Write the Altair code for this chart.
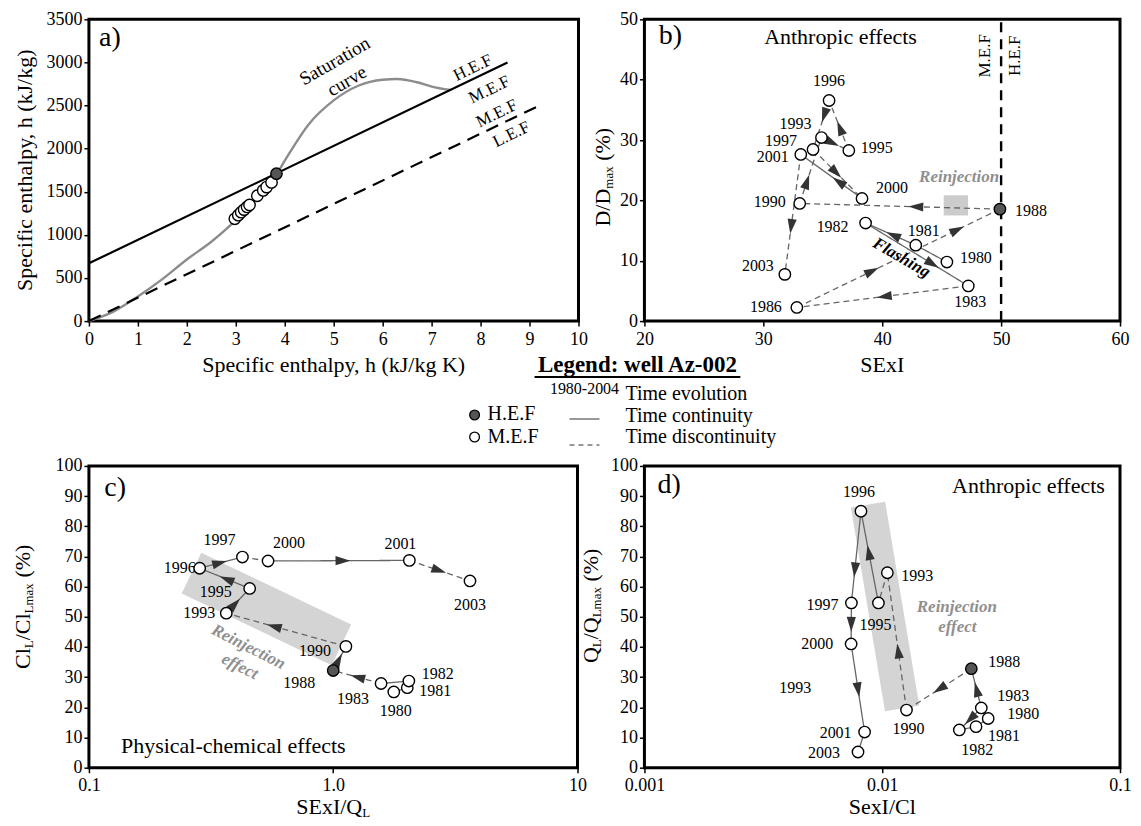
import math
import altair as alt
import pandas as pd

FONT = "Liberation Serif"

# ---------------- data: panel a ----------------
sat_h = [0, 0.5, 1.0, 1.5, 2.0, 2.5, 3.0, 3.5, 3.85, 4.0, 4.5, 5.0, 5.5, 6.0, 6.3, 6.7, 7.0, 7.38]
sat_e = [0, 110, 285, 487, 715, 920, 1170, 1480, 1720, 1860, 2290, 2560, 2730, 2800, 2808, 2770, 2720, 2680]
hef_h = [0.0, 8.55]
hef_e = [670, 3000]
lef_h = [0.0, 9.2]
lef_e = [0, 2500]
a_mef_h = [2.98, 3.05, 3.11, 3.17, 3.23, 3.28, 3.44, 3.56, 3.63, 3.73]
a_mef_e = [1186, 1228, 1263, 1293, 1324, 1347, 1454, 1516, 1554, 1608]
a_hef_h = [3.83]
a_hef_e = [1710]

# ---------------- data: panel b ----------------
b_years = [1980, 1981, 1982, 1983, 1986, 1988, 1990, 1993, 1995, 1996, 1997, 2000, 2001, 2003]
b_sexi = [45.44, 42.82, 38.60, 47.24, 32.82, 49.9, 33.06, 34.89, 37.19, 35.53, 34.18, 38.30, 33.15, 31.81]
b_ddmax = [9.78, 12.58, 16.25, 5.83, 2.26, 18.55, 19.49, 30.41, 28.27, 36.55, 28.43, 20.32, 27.61, 7.74]

# ---------------- data: panels c, d ----------------
cd_years = [1980, 1981, 1982, 1983, 1988, 1990, 1993, 1995, 1996, 1997, 2000, 2001, 2003]
c_sexi_ql = [1.77, 2.01, 2.04, 1.57, 1.00, 1.127, 0.365, 0.455, 0.284, 0.425, 0.541, 2.05, 3.63]
c_cl = [25.1, 26.5, 28.7, 27.9, 32.2, 40.2, 51.2, 59.4, 66.1, 69.8, 68.5, 68.7, 61.9]
d_sexi_cl = [0.0279, 0.0248, 0.0211, 0.0261, 0.0237, 0.01265, 0.01051, 0.00964, 0.00814, 0.00742, 0.00740, 0.00843, 0.00791]
d_ql = [16.3, 13.6, 12.5, 19.8, 32.8, 19.1, 64.6, 54.6, 85.0, 54.6, 41.0, 11.8, 5.2]
HEF_YEAR = 1988

# ---------------- time-evolution segments: (from, to, style, arrow fractions) ----------------
b_segs = [(1980, 1981, "solid", []), (1981, 1982, "solid", [0.45]), (1982, 1983, "solid", [0.65]),
          (1983, 1986, "dashed", [0.49]), (1986, 1988, "dashed", [0.37, 0.79]), (1988, 1990, "dashed", [0.42]),
          (1990, 1993, "dashed", [0.33]), (1993, 1995, "dashed", [0.4]), (1995, 1996, "dashed", [0.45]),
          (1996, 1997, "dashed", [0.3]), (1997, 2000, "dashed", [0.47]), (2000, 2001, "solid", [0.38]),
          (2001, 2003, "dashed", [0.6])]
c_segs = [(1980, 1981, "solid", []), (1981, 1982, "solid", []), (1982, 1983, "solid", []),
          (1983, 1988, "dashed", [0.49]), (1988, 1990, "solid", [0.42]), (1990, 1993, "dashed", [0.6]),
          (1993, 1995, "solid", [0.37]), (1995, 1996, "solid", [0.46]), (1996, 1997, "solid", [0.47]),
          (1997, 2000, "dashed", []), (2000, 2001, "solid", [0.53]), (2001, 2003, "dashed", [0.49])]
d_segs = [(1980, 1981, "solid", []), (1981, 1982, "solid", []), (1983, 1982, "solid", [0.5]),
          (1983, 1988, "solid", [0.47]), (1988, 1990, "dashed", [0.49]), (1990, 1993, "dashed", [0.43]),
          (1993, 1995, "dashed", []), (1995, 1996, "solid", [0.55]), (1996, 1997, "solid", [0.64]),
          (1997, 2000, "solid", [0.52]), (2000, 2001, "solid", [0.52]), (2001, 2003, "solid", [])]

# year-label offsets in pixels (style)
b_lab = {1980: (29, -4), 1981: (8, -14), 1982: (-33, 4), 1983: (2, 16), 1986: (-31, 0), 1988: (31, 2),
         1990: (-30, -1), 1993: (-26, -14), 1995: (28, -2), 1996: (0, -20), 1997: (-32, -9),
         2000: (30, -10), 2001: (-28, 3), 2003: (-27, -8)}
c_lab = {1980: (2, 19), 1981: (28, 3), 1982: (29, -7), 1983: (-28, 16), 1988: (-34, 12), 1990: (-31, 5),
         1993: (-27, 0), 1995: (-34, 4), 1996: (-20, 0), 1997: (-23, -17), 2000: (21, -18),
         2001: (-9, -16), 2003: (0, 24)}
d_lab = {1980: (35, -5), 1981: (28, 9), 1982: (18, 20), 1983: (32, -12), 1988: (33, -7), 1990: (2, 19),
         1993: (30, 3), 1995: (-3, 22), 1996: (-2, -19), 1997: (-29, 2), 2000: (-34, 0),
         2001: (-29, 1), 2003: (-34, 1)}

ONE = pd.DataFrame({"k": [0]})
TW = {" ": 0.25, "(": 0.333, ")": 0.333, "%": 0.833, "/": 0.278, "C": 0.667, "l": 0.278, "L": 0.611,
      "m": 0.778, "a": 0.444, "x": 0.5, "D": 0.722, "Q": 0.722, "S": 0.556, "E": 0.611, "I": 0.333, "e": 0.444}


def tw(s, fs):
    return sum(TW.get(c, 0.5) for c in s) * fs


class Panel:
    def __init__(self, w, h, xdom, ydom, xlog, xvals, yvals, xfmt=None):
        self.w, self.h, self.xdom, self.ydom, self.xlog = w, h, xdom, ydom, xlog
        if xlog:
            self.lx = (math.log10(xdom[0]), math.log10(xdom[1]))
        else:
            self.lx = xdom
        axx = dict(values=xvals)
        if xfmt:
            axx["labelExpr"] = xfmt
        self.xscale = alt.Scale(domain=list(xdom), type="log" if xlog else "linear", nice=False, zero=False)
        self.yscale = alt.Scale(domain=list(ydom), nice=False, zero=False)
        self.xaxis = alt.Axis(title=None, labelPadding=4, **axx)
        self.yaxis = alt.Axis(title=None, values=yvals, format="d")

    def fx(self, v):
        t = math.log10(v) if self.xlog else v
        return self.w * (t - self.lx[0]) / (self.lx[1] - self.lx[0])

    def ix(self, p):
        t = self.lx[0] + p / self.w * (self.lx[1] - self.lx[0])
        return 10 ** t if self.xlog else t

    def fy(self, v):
        return self.h * (1 - (v - self.ydom[0]) / (self.ydom[1] - self.ydom[0]))

    def iy(self, p):
        return self.ydom[0] + (1 - p / self.h) * (self.ydom[1] - self.ydom[0])

    def X(self, f="x"):
        return alt.X(f"{f}:Q", scale=self.xscale, axis=self.xaxis)

    def Y(self, f="y"):
        return alt.Y(f"{f}:Q", scale=self.yscale, axis=self.yaxis)

    def text(self, x, y, t, **kw):
        style = dict(font=FONT, fontSize=22, color="black", align="center", baseline="middle")
        style.update(kw)
        return alt.Chart(pd.DataFrame({"x": [x], "y": [y]})).mark_text(text=t, **style).encode(
            x=self.X(), y=self.Y())


def ptext(px, py, t, **kw):
    style = dict(font=FONT, fontSize=22, color="black", align="center", baseline="middle")
    style.update(kw)
    return alt.Chart(ONE).mark_text(text=t, **style).encode(x=alt.value(px), y=alt.value(py))


def rich(pieces, cx, cy, vertical=False):
    """pieces: (text, size, shift, gap_before)"""
    total = sum(tw(t, fs) + g for t, fs, sh, g in pieces)
    pos = -total / 2
    out = []
    for t, fs, sh, g in pieces:
        pos += g
        if vertical:
            out.append(ptext(cx + sh, cy - pos, t, fontSize=fs, align="left", angle=270))
        else:
            out.append(ptext(cx + pos, cy + sh, t, fontSize=fs, align="left"))
        pos += tw(t, fs)
    return out


def circles(P, xs, ys, filled):
    df = pd.DataFrame({"x": xs, "y": ys})
    return alt.Chart(df).mark_point(shape="circle", filled=True, opacity=1,
                                    fill="#555555" if filled else "white", stroke="black",
                                    strokeWidth=1.4, size=130).encode(x=P.X(), y=P.Y())


def evolution_layers(P, years, xs, ys, segs, labs):
    pts = {yr: (x, y) for yr, x, y in zip(years, xs, ys)}
    lrows, arows = [], []
    for i, (a, b, style, fracs) in enumerate(segs):
        for o, yr in enumerate((a, b)):
            lrows.append(dict(seg=i, o=o, x=pts[yr][0], y=pts[yr][1], style=style))
        x1, y1 = P.fx(pts[a][0]), P.fy(pts[a][1])
        x2, y2 = P.fx(pts[b][0]), P.fy(pts[b][1])
        ang = math.degrees(math.atan2(x2 - x1, -(y2 - y1))) % 360
        for f in fracs:
            arows.append(dict(x=P.ix(x1 + (x2 - x1) * f), y=P.iy(y1 + (y2 - y1) * f), angle=ang))
    lines = alt.Chart(pd.DataFrame(lrows)).mark_line(color="#666666", strokeWidth=1.3).encode(
        x=P.X(), y=P.Y(), detail="seg:N", order="o:Q",
        strokeDash=alt.StrokeDash("style:N", scale=alt.Scale(domain=["solid", "dashed"], range=[[1, 0], [6, 4]]),
                                  legend=None))
    arrows = alt.Chart(pd.DataFrame(arows)).mark_point(
        shape="M0,-1L0.62,1L-0.62,1Z", filled=True, fill="#333333", opacity=1, strokeWidth=0, size=220
    ).encode(x=P.X(), y=P.Y(), angle=alt.Angle("angle:Q", scale=None))
    lab_rows = []
    for yr in years:
        dx, dy = labs[yr]
        lab_rows.append(dict(x=P.ix(P.fx(pts[yr][0]) + dx), y=P.iy(P.fy(pts[yr][1]) + dy), t=str(yr)))
    labels = alt.Chart(pd.DataFrame(lab_rows)).mark_text(font=FONT, fontSize=16, color="black",
                                                         align="center", baseline="middle").encode(
        x=P.X(), y=P.Y(), text="t:N")
    mef = [(x, y) for yr, x, y in zip(years, xs, ys) if yr != HEF_YEAR]
    hef = [(x, y) for yr, x, y in zip(years, xs, ys) if yr == HEF_YEAR]
    return [lines, arrows, labels,
            circles(P, [p[0] for p in mef], [p[1] for p in mef], False),
            circles(P, [p[0] for p in hef], [p[1] for p in hef], True)]


FRAME = alt.ViewBackground(stroke="black", strokeWidth=3)
NOFRAME = alt.ViewBackground(stroke="white", strokeWidth=0)

# ================= panel a =================
PA = Panel(490, 302, (0, 10), (0, 3500), False, list(range(0, 11)), list(range(0, 3501, 500)))
sat = alt.Chart(pd.DataFrame({"x": sat_h, "y": sat_e})).mark_line(
    color="#8c8c8c", strokeWidth=2.4, interpolate="monotone").encode(x=PA.X(), y=PA.Y())
hef_line = alt.Chart(pd.DataFrame({"x": hef_h, "y": hef_e})).mark_line(color="black", strokeWidth=2.2).encode(
    x=PA.X(), y=PA.Y())
lef_line = alt.Chart(pd.DataFrame({"x": lef_h, "y": lef_e})).mark_line(
    color="black", strokeWidth=2.2, strokeDash=[13, 8]).encode(x=PA.X(), y=PA.Y())
panel_a = alt.layer(
    sat, hef_line, lef_line,
    circles(PA, a_mef_h, a_mef_e, False), circles(PA, a_hef_h, a_hef_e, True),
    PA.text(0.43, 3289, "a)", fontSize=28),
    PA.text(5.02, 3016, "Saturation", fontSize=19, angle=330),
    PA.text(5.27, 2786, "curve", fontSize=19, angle=330),
    PA.text(7.84, 2936, "H.E.F", fontSize=17, angle=334),
    PA.text(8.18, 2682, "M.E.F", fontSize=17, angle=334),
    PA.text(8.33, 2406, "M.E.F", fontSize=17, angle=334),
    PA.text(8.63, 2164, "L.E.F", fontSize=17, angle=334),
    ptext(245, 346, "Specific enthalpy, h (kJ/kg K)"),
    ptext(-64, 151, "Specific enthalpy, h (kJ/kg)", angle=270),
).properties(width=PA.w, height=PA.h, view=FRAME)

# ================= panel b =================
PB = Panel(476, 302, (20, 60), (0, 50), False, [20, 30, 40, 50, 60], [0, 10, 20, 30, 40, 50])
b_rect = alt.Chart(pd.DataFrame({"x": [45.17], "x2": [47.22], "y": [17.5], "y2": [20.85]})).mark_rect(
    color="#cccccc").encode(x=PB.X(), x2="x2:Q", y=PB.Y(), y2="y2:Q")
b_vline = alt.Chart(pd.DataFrame({"x": [50], "y": [0], "y2": [50]})).mark_rule(
    color="black", strokeWidth=2.4, strokeDash=[10, 7]).encode(x=PB.X(), y=PB.Y(), y2="y2:Q")
panel_b = alt.layer(
    b_rect, b_vline,
    *evolution_layers(PB, b_years, b_sexi, b_ddmax, b_segs, b_lab),
    PB.text(22.18, 47.25, "b)", fontSize=28),
    PB.text(36.49, 47.04, "Anthropic effects"),
    PB.text(48.68, 43.96, "M.E.F", fontSize=17, angle=270),
    PB.text(51.17, 43.96, "H.E.F", fontSize=17, angle=270),
    PB.text(46.47, 23.94, "Reinjection", fontSize=17, fontWeight="bold", fontStyle="italic", color="#8f8f8f"),
    PB.text(41.62, 10.49, "Flashing", fontSize=17, fontWeight="bold", fontStyle="italic", angle=30),
    ptext(PB.w / 2, 346, "SExI"),
    *rich([("D/D", 22, 0, 0), ("max", 13, 6, 0), ("(%)", 22, 0, 5.5)], -41, 158, vertical=True),
).properties(width=PB.w, height=PB.h, view=FRAME)

# ================= panel c =================
PC = Panel(489, 302, (0.1, 10), (0, 100), True, [0.1, 1, 10], list(range(0, 101, 10)),
           xfmt="datum.value == 1 ? '1.0' : format(datum.value, '~g')")
c_band = alt.Chart(pd.DataFrame({"x": [0.533], "y": [52.6]})).mark_point(
    shape="M-1,-0.2716L1,-0.2716L1,0.2716L-1,0.2716Z", filled=True, fill="#d4d4d4", opacity=1,
    strokeWidth=0, size=166.4 ** 2, angle=25.6).encode(x=PC.X(), y=PC.Y())
panel_c = alt.layer(
    c_band,
    *evolution_layers(PC, cd_years, c_sexi_ql, c_cl, c_segs, c_lab),
    PC.text(0.128, 92.7, "c)", fontSize=28),
    PC.text(0.390, 7.14, "Physical-chemical effects"),
    PC.text(0.450, 40.0, "Reinjection", fontSize=17, fontWeight="bold", fontStyle="italic",
            color="#8f8f8f", angle=27),
    PC.text(0.415, 33.5, "effect", fontSize=17, fontWeight="bold", fontStyle="italic",
            color="#8f8f8f", angle=27),
    *rich([("SExI/Q", 22, 0, 0), ("L", 13, 6, 0)], PC.w / 2, 341),
    *rich([("Cl", 22, 0, 0), ("L", 13, 6, 0), ("/Cl", 22, 0, 0), ("Lmax", 13, 6, 0), ("(%)", 22, 0, 5.5)],
          -66, 141, vertical=True),
).properties(width=PC.w, height=PC.h, view=FRAME)

# ================= panel d =================
PD = Panel(476, 302, (0.001, 0.1), (0, 100), True, [0.001, 0.01, 0.1], list(range(0, 101, 10)),
           xfmt="format(datum.value, '~g')")
d_band = alt.Chart(pd.DataFrame({"x": [0.01028], "y": [53.4]})).mark_point(
    shape="M-1,-0.168L1,-0.168L1,0.168L-1,0.168Z", filled=True, fill="#d4d4d4", opacity=1,
    strokeWidth=0, size=206.8 ** 2, angle=80.5).encode(x=PD.X(), y=PD.Y())
panel_d = alt.layer(
    d_band,
    *evolution_layers(PD, cd_years, d_sexi_cl, d_ql, d_segs, d_lab),
    PD.text(0.00431, 26.5, "1993", fontSize=16),
    PD.text(0.00127, 93.8, "d)", fontSize=28),
    PD.text(0.0412, 93.3, "Anthropic effects"),
    PD.text(0.0206, 53.3, "Reinjection", fontSize=17, fontWeight="bold", fontStyle="italic", color="#8f8f8f"),
    PD.text(0.0207, 46.6, "effect", fontSize=17, fontWeight="bold", fontStyle="italic", color="#8f8f8f"),
    ptext(PD.w / 2, 341, "SexI/Cl"),
    *rich([("Q", 22, 0, 0), ("L", 13, 6, 0), ("/Q", 22, 0, 0), ("Lmax", 13, 6, 0), ("(%)", 22, 0, 5.5)],
          -53, 140, vertical=True),
).properties(width=PD.w, height=PD.h, view=FRAME)

# ================= legend =================
def prule(x1, x2, y, **kw):
    return alt.Chart(ONE).mark_rule(**kw).encode(x=alt.value(x1), x2=alt.value(x2), y=alt.value(y))


def pdot(px, py, fill):
    return alt.Chart(ONE).mark_point(shape="circle", filled=True, opacity=1, fill=fill, stroke="black",
                                     strokeWidth=1.3, size=95).encode(x=alt.value(px), y=alt.value(py))


legend = alt.layer(
    ptext(549, 34, "Legend: well Az-002", fontSize=23, fontWeight="bold"),
    prule(446, 652, 46, color="black", strokeWidth=2),
    ptext(496, 58, "1980-2004", fontSize=16),
    ptext(537, 63, "Time evolution", fontSize=20, align="left"),
    pdot(386, 84, "#555555"),
    ptext(399, 83, "H.E.F", fontSize=20, align="left"),
    prule(481, 511, 88, color="#777777", strokeWidth=1.5),
    ptext(537, 85, "Time continuity", fontSize=20, align="left"),
    pdot(386, 106, "white"),
    ptext(399, 106, "M.E.F", fontSize=20, align="left"),
    prule(481, 511, 114, color="#777777", strokeWidth=1.5, strokeDash=[5, 4]),
    ptext(537, 106, "Time discontinuity", fontSize=20, align="left"),
).properties(width=490, height=125, view=NOFRAME)

blank = alt.Chart(ONE).mark_text(text=" ").encode(x=alt.value(0), y=alt.value(0)).properties(
    width=476, height=125, view=NOFRAME)

chart = alt.concat(
    panel_a, panel_b, legend, blank, panel_c, panel_d,
    columns=2, bounds="flush", spacing={"row": 10, "column": 66},
).properties(
    padding={"left": 2, "top": 0, "right": 0, "bottom": 0}
).configure_axis(
    labelFont=FONT, labelFontSize=18, labelColor="black", tickColor="black", tickSize=5, tickWidth=1.5,
    domain=False, grid=False, labelPadding=2, labelFlush=False, labelOverlap=False
).configure_text(font=FONT).configure_view(strokeWidth=0)

chart.save("out.html", embed_options={"renderer": "svg", "actions": False})
